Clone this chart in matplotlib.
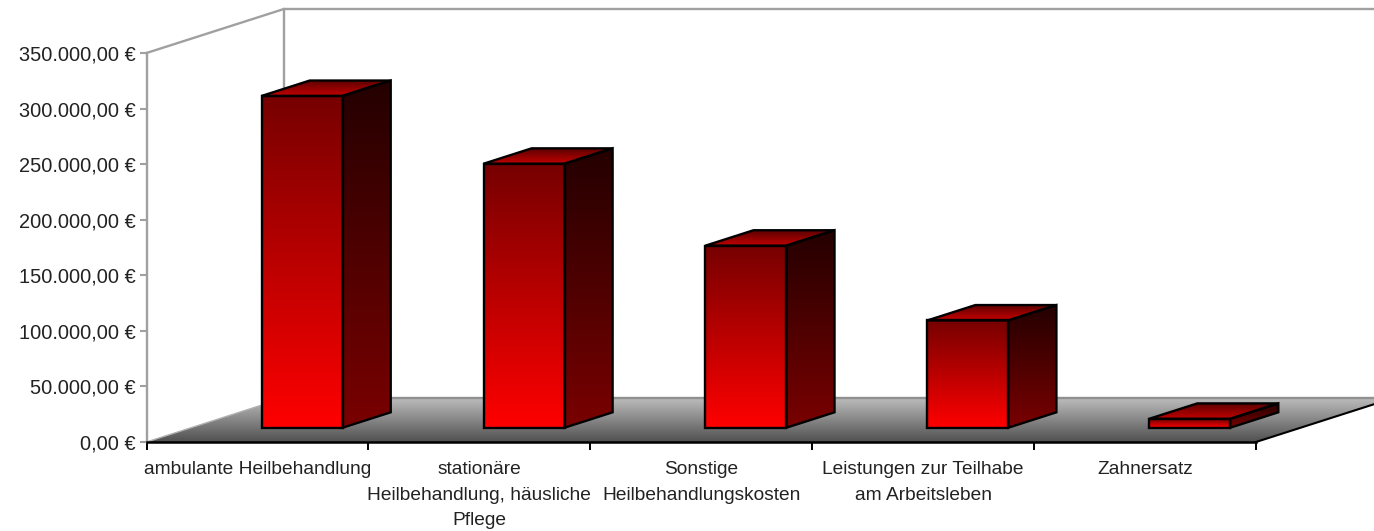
import numpy as np
import matplotlib
matplotlib.use('Agg')
import matplotlib.pyplot as plt
from matplotlib.colors import LinearSegmentedColormap
from matplotlib.patches import Polygon

categories = ['ambulante Heilbehandlung',
              'stationäre\nHeilbehandlung, häusliche\nPflege',
              'Sonstige\nHeilbehandlungskosten',
              'Leistungen zur Teilhabe\nam Arbeitsleben',
              'Zahnersatz']
values = [298500, 237500, 163800, 96500, 8000]
y_ticks = [0, 50000, 100000, 150000, 200000, 250000, 300000, 350000]
y_labels = ['0,00 €', '50.000,00 €', '100.000,00 €', '150.000,00 €',
            '200.000,00 €', '250.000,00 €', '300.000,00 €', '350.000,00 €']

W, H = 1374, 531
plt.rcParams['font.family'] = ['Liberation Sans', 'DejaVu Sans']

fig = plt.figure(figsize=(W / 100, H / 100), dpi=100)
ax = fig.add_axes([146.5 / W, 1 - 442 / H, (1256 - 146.5) / W, 389 / H])
ax.patch.set_visible(False)

ymax = 350000
# how far the back of the box is shifted, in data units
depth_x = 137.5 / 222
depth_y = 44 / 389 * ymax


def proj(x, y, z):
    return x + z * depth_x, y + z * depth_y


def shade(pts, colors, zorder):
    # vertical gradient clipped to a polygon, colors go bottom -> top
    pts = np.array(pts)
    cmap = LinearSegmentedColormap.from_list('c', colors)
    grad = np.linspace(0, 1, 256).reshape(-1, 1)
    ext = [pts[:, 0].min(), pts[:, 0].max(), pts[:, 1].min(), pts[:, 1].max()]
    im = ax.imshow(grad, extent=ext, origin='lower', cmap=cmap, aspect='auto',
                   zorder=zorder, interpolation='bilinear')
    poly = Polygon(pts, transform=ax.transData)
    im.set_clip_path(poly)
    im.set_clip_box(fig.bbox)


def outline(pts, zorder, color='black', lw=1.7):
    ax.add_patch(Polygon(pts, closed=True, fill=False, edgecolor=color, lw=lw,
                         zorder=zorder, clip_on=False, joinstyle='miter'))


# floor
floor = [proj(0, 0, 0), proj(5, 0, 0), proj(5, 0, 1), proj(0, 0, 1)]
shade(floor, ['#505050', '#bcbcbc'], 1)

# walls
wall = '#a0a0a0'
ax.plot(*zip(proj(0, ymax, 0), proj(0, ymax, 1), proj(5, ymax, 1)),
        color=wall, lw=1.7, clip_on=False, zorder=1)
ax.plot(*zip(proj(0, 0, 1), proj(0, ymax, 1)), color=wall, lw=1.7, clip_on=False, zorder=0.5)
ax.plot(*zip(proj(0, 0, 1), proj(5, 0, 1)), color='#909090', lw=1.7, clip_on=False, zorder=1.1)
ax.plot(*zip(proj(0, 0, 0), proj(0, 0, 1)), color='#b0b0b0', lw=1.0, clip_on=False, zorder=1.1)
ax.plot(*zip(proj(5, 0, 0), proj(5, 0, 1)), color='black', lw=1.5, clip_on=False, zorder=1.1)

# bars
bar_w = 0.365
z0, z1 = 0.325, 0.675
for i, v in enumerate(values):
    x0 = i + 0.5 - bar_w / 2
    x1 = i + 0.5 + bar_w / 2
    front = [proj(x0, 0, z0), proj(x1, 0, z0), proj(x1, v, z0), proj(x0, v, z0)]
    side = [proj(x1, 0, z0), proj(x1, 0, z1), proj(x1, v, z1), proj(x1, v, z0)]
    top = [proj(x0, v, z0), proj(x1, v, z0), proj(x1, v, z1), proj(x0, v, z1)]
    shade(front, ['#ff0000', '#760000'], 3)
    shade(side, ['#7a0000', '#240000'], 3)
    shade(top, ['#c40000', '#5a0000'], 3)
    outline(front, 4)
    outline(side, 4)
    outline(top, 4)

ax.set_xlim(0, 5)
ax.set_ylim(0, ymax)

for s in ['top', 'right']:
    ax.spines[s].set_visible(False)
ax.spines['left'].set_color(wall)
ax.spines['left'].set_linewidth(1.7)
ax.spines['bottom'].set_color('black')
ax.spines['bottom'].set_linewidth(1.8)
ax.spines['bottom'].set_zorder(5)

ax.set_yticks(y_ticks)
ax.set_yticklabels(y_labels, fontsize=14.4, color='#222222')
ax.tick_params(axis='y', color=wall, width=1.5, length=5, pad=3)

# boundaries get the tick marks, the labels sit in between
ax.set_xticks(range(6))
ax.set_xticklabels([])
ax.tick_params(axis='x', which='major', color='black', width=1.4, length=6)
ax.set_xticks(np.arange(5) + 0.5, minor=True)
ax.set_xticklabels(categories, minor=True, fontsize=13.8, color='#222222', linespacing=1.62)
ax.tick_params(axis='x', which='minor', length=0, pad=14)

fig.savefig('out.png', dpi=100)
